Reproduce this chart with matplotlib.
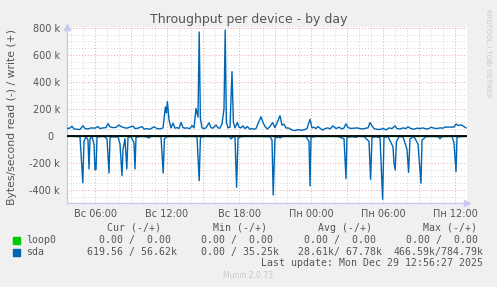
import numpy as np
import matplotlib.pyplot as plt
from matplotlib.patches import Rectangle

plt.rcParams['font.family'] = ['DejaVu Sans']

# Data: minutes since Sunday 00:00, values in k bytes/s
write_min = [220, 230, 245, 255, 270, 285, 300, 310, 325, 340, 360, 375, 385, 400, 415, 425, 435, 450,
             465, 480, 490, 505, 520, 535, 550, 560, 575, 595, 605, 620, 635, 655, 670, 685, 700, 707,
             712, 717, 722, 730, 740, 750, 760, 770, 780, 790, 800, 810, 820, 835, 845, 855, 865, 875,
             881, 887, 895, 905, 915, 930, 940, 950, 965, 975, 985, 995, 1005, 1011, 1017, 1025, 1035,
             1045, 1052, 1060, 1072, 1080, 1090, 1100, 1110, 1122, 1135, 1145, 1155, 1165, 1175, 1190,
             1200, 1210, 1222, 1235, 1248, 1260, 1270, 1285, 1295, 1305, 1315, 1330, 1345, 1360, 1375,
             1390, 1405, 1420, 1435, 1445, 1455, 1465, 1475, 1485, 1498, 1510, 1525, 1535, 1550, 1565,
             1580, 1595, 1605, 1615, 1625, 1640, 1655, 1670, 1685, 1700, 1715, 1725, 1735, 1745, 1755,
             1770, 1785, 1800, 1815, 1830, 1845, 1860, 1870, 1885, 1900, 1915, 1925, 1940, 1955, 1970,
             1985, 2000, 2015, 2030, 2040, 2055, 2070, 2085, 2100, 2110, 2125, 2140, 2155, 2165, 2175,
             2190, 2200, 2215]
write_k = [58, 55, 72, 52, 50, 48, 76, 55, 52, 60, 58, 70, 55, 60, 62, 92, 68, 62,
           64, 82, 70, 62, 58, 66, 74, 55, 58, 70, 52, 54, 50, 68, 55, 52, 60, 150,
           215, 170, 255, 120, 60, 95, 58, 62, 56, 100, 62, 58, 60, 55, 78, 60, 205, 140,
           770, 130, 60, 55, 60, 98, 62, 58, 82, 60, 58, 90, 200, 785, 100, 60, 65,
           476, 100, 60, 100, 65, 60, 75, 55, 70, 50, 55, 50, 55, 90, 143,
           100, 70, 52, 70, 100, 62, 95, 150, 80, 88, 60, 58, 44, 40, 48,
           42, 46, 55, 124, 60, 65, 55, 70, 58, 44, 55, 60, 52, 75, 55,
           65, 52, 60, 90, 62, 56, 58, 60, 55, 52, 58, 60, 99, 75, 55,
           50, 48, 56, 45, 60, 55, 75, 55, 52, 60, 55, 68, 55, 50, 58,
           55, 60, 52, 55, 65, 58, 55, 60, 58, 66, 66, 66, 66, 89, 78,
           82, 75, 60]

read_min = [220, 235, 260, 285, 299, 305, 315, 325, 330, 335, 345, 355, 360, 365, 370, 380, 405, 420,
            430, 435, 445, 460, 475, 485, 495, 500, 510, 519, 525, 540, 555, 560, 565, 585, 615, 630,
            640, 665, 690, 701, 707, 720, 745, 765, 785, 815, 835, 870, 881, 887, 910, 945, 975, 995,
            1015, 1030, 1040, 1050, 1060, 1068, 1075, 1090, 1115, 1145, 1175, 1210, 1235, 1245, 1251,
            1260, 1270, 1280, 1285, 1295, 1325, 1355, 1385, 1415, 1430, 1435, 1440, 1465, 1495, 1535,
            1575, 1605, 1615, 1620, 1645, 1665, 1675, 1705, 1730, 1738, 1745, 1765, 1775, 1785, 1798,
            1805, 1825, 1850, 1855, 1861, 1867, 1880, 1900, 1920, 1928, 1935, 1955, 1975, 1990, 1995,
            2015, 2045, 2075, 2085, 2095, 2120, 2145, 2155, 2165, 2170, 2185, 2215]
read_k = [-3, -2, -3, -5, -346, -40, -5, -30, -244, -20, -5, -60, -250, -248, -10, -5, -3, -20,
          -274, -15, -5, -8, -5, -60, -294, -100, -20, -244, -10, -5, -50, -244, -10, -3, -5, -15,
          -3, -3, -5, -274, -20, -5, -3, -4, -3, -5, -3, -5, -331, -10, -3, -5, -4, -5,
          -5, -3, -22, -5, -10, -380, -15, -5, -3, -4, -3, -5, -5, -30, -437,
          -10, -12, -8, -15, -5, -3, -4, -3, -4, -40, -370, -10, -3, -4, -3,
          -4, -20, -316, -10, -5, -10, -3, -4, -40, -321, -10, -5, -10, -8, -469,
          -10, -5, -80, -200, -252, -40, -5, -5, -100, -269, -20, -5, -60, -350, -30,
          -5, -3, -5, -20, -5, -3, -3, -50, -264, -10, -5, -3]

tick_min = [360, 720, 1080, 1440, 1800, 2160]
tick_labels = ['Вс 06:00', 'Вс 12:00', 'Вс 18:00', 'Пн 00:00', 'Пн 06:00', 'Пн 12:00']
ytick_vals = [-400, -200, 0, 200, 400, 600, 800]
ytick_labels = ['-400 k', '-200 k', '0  ', '200 k', '400 k', '600 k', '800 k']

headers = ['Cur (-/+)', 'Min (-/+)', 'Avg (-/+)', 'Max (-/+)']
loop0_cols = ['  0.00 /  0.00 ', '  0.00 /  0.00 ', '  0.00 /  0.00 ', '  0.00 /  0.00 ']
sda_cols = ['619.56 / 56.62k', '  0.00 / 35.25k', ' 28.61k/ 67.78k', '466.59k/784.79k']

W, H = 497, 287
fig = plt.figure(figsize=(W / 100, H / 100), dpi=100, facecolor='#F0F0F0')
ax = fig.add_axes([67 / W, 1 - 203 / H, 400 / W, 176 / H])
ax.set_facecolor('white')

ax.set_xlim(220, 2220)
ax.set_ylim(-496.3, 807.4)

# grid
for m in range(240, 2220, 60):
    if m % 180 != 0:
        ax.axvline(m, color='#D8D8D8', lw=0.7, ls=(0, (1, 2)), zorder=1)
for m in range(360 - 180, 2220, 180):
    if m > 220:
        ax.axvline(m, color='#EFA0A0', lw=0.7, ls=(0, (1, 2)), zorder=1)
for v in range(-450, 801, 50):
    if v % 200 != 0:
        ax.axhline(v, color='#D8D8D8', lw=0.7, ls=(0, (1, 2)), zorder=1)
for v in ytick_vals:
    if v != 0:
        ax.axhline(v, color='#EFA0A0', lw=0.7, ls=(0, (1, 2)), zorder=1)

ax.axhline(0, color='#00CC00', lw=1.0, zorder=2)
ax.plot(write_min, write_k, color='#0066B3', lw=1.0, zorder=3)
ax.plot(read_min, read_k, color='#0066B3', lw=1.0, zorder=3)
ax.axhline(0, color='black', lw=1.3, zorder=4)

for s in ['top', 'right']:
    ax.spines[s].set_visible(False)
for s in ['left', 'bottom']:
    ax.spines[s].set_color('#C8C8F0')
    ax.spines[s].set_linewidth(1.0)
ax.plot([1], [0], '>', color='#C8C8F0', ms=5, transform=ax.transAxes, clip_on=False)
ax.plot([0], [1], '^', color='#C8C8F0', ms=5, transform=ax.transAxes, clip_on=False)

ax.set_xticks(tick_min)
ax.set_xticklabels(tick_labels)
ax.set_yticks(ytick_vals)
ax.set_yticklabels(ytick_labels)
ax.tick_params(length=0, labelsize=7, labelcolor='#555555')
ax.tick_params(axis='y', pad=5)
ax.tick_params(axis='x', pad=4)

fig.text(249 / W, 1 - 20 / H, 'Throughput per device - by day', ha='center', va='center',
         fontsize=9, color='#555555')
fig.text(12 / W, 1 - 117 / H, 'Bytes/second read (-) / write (+)', rotation=90,
         ha='center', va='center', fontsize=7.8, color='#555555')
fig.text(488 / W, 1 - 53 / H, 'RRDTOOL / TOBI OETIKER', rotation=270, ha='center', va='center',
         fontsize=5, color='#C8C8C8')

mono = 'DejaVu Sans Mono'
fs = 7.1
for x, h in zip([107, 213, 318, 423], headers):
    fig.text(x / W, 1 - 228 / H, h, family=mono, fontsize=fs, color='#555555', va='center')
for x, c in zip([87, 189, 292, 394], loop0_cols):
    fig.text(x / W, 1 - 240 / H, c, family=mono, fontsize=fs, color='#555555', va='center')
for x, c in zip([87, 189, 292, 394], sda_cols):
    fig.text(x / W, 1 - 252 / H, c, family=mono, fontsize=fs, color='#555555', va='center')
fig.text(26 / W, 1 - 240 / H, 'loop0', family=mono, fontsize=fs, color='#555555', va='center')
fig.text(26 / W, 1 - 252 / H, 'sda', family=mono, fontsize=fs, color='#555555', va='center')
fig.patches.append(Rectangle((13 / W, 1 - 243.5 / H), 7 / W, 7 / H, transform=fig.transFigure,
                             color='#00CC00', figure=fig))
fig.patches.append(Rectangle((13 / W, 1 - 255.5 / H), 7 / W, 7 / H, transform=fig.transFigure,
                             color='#0066B3', figure=fig))
fig.text(483 / W, 1 - 263 / H, 'Last update: Mon Dec 29 12:56:27 2025', family=mono,
         fontsize=fs, color='#555555', ha='right', va='center')
fig.text(248 / W, 1 - 276 / H, 'Munin 2.0.73', fontsize=5.5, color='#C8C8C8',
         ha='center', va='center')

fig.savefig('out.png', dpi=100, facecolor=fig.get_facecolor())
